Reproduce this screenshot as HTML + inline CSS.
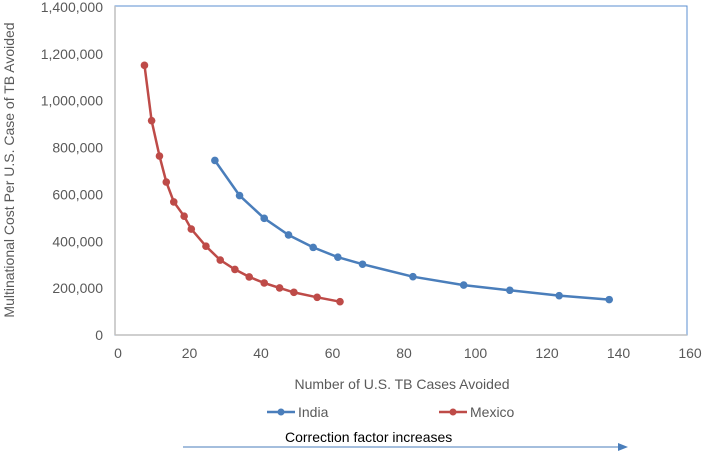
<!DOCTYPE html>
<html><head><meta charset="utf-8"><style>
html,body{margin:0;padding:0;background:#fff;}
svg{display:block;font-family:"Liberation Sans",sans-serif;}
</style></head><body>
<svg id="chart" width="709" height="453">
<rect x="115" y="6" width="572" height="329" fill="none" stroke="#5b8fd0" stroke-width="1"/>
<line x1="115" y1="335" x2="687" y2="335" stroke="#bfbfbf" stroke-width="1.5"/>
<line x1="115" y1="6" x2="115" y2="335" stroke="#bfbfbf" stroke-width="1.5"/>
<g id="xt"></g><g id="yt"></g><g id="series"></g>
<text x="402" y="389" text-anchor="middle" font-size="14" fill="#595959">Number  of U.S. TB Cases Avoided</text>
<text transform="translate(14,170) rotate(-90)" text-anchor="middle" font-size="14" fill="#595959">Multinational  Cost Per U.S. Case of TB Avoided</text>
<g>
<line x1="267" y1="412" x2="295" y2="412" stroke="#4a7ebb" stroke-width="2.5"/>
<circle cx="281" cy="412" r="3.5" fill="#4a7ebb"/>
<text x="298" y="417" font-size="14" fill="#595959">India</text></g>
<g>
<line x1="439" y1="412" x2="467" y2="412" stroke="#be4b48" stroke-width="2.5"/>
<circle cx="453" cy="412" r="3.5" fill="#be4b48"/>
<text x="470" y="417" font-size="14" fill="#595959">Mexico</text></g>
<text x="285" y="442" font-size="14" fill="#000">Correction factor increases</text>
<g>
<line x1="183" y1="447" x2="618" y2="447" stroke="#4a7ebb" stroke-width="1"/>
<polygon points="628,447 618,443 618,451" fill="#4a7ebb"/></g>
</svg>
<script>
const xTicks=[0,20,40,60,80,100,120,140,160];
const yTicks=[0,200000,400000,600000,800000,1000000,1200000,1400000];
const indiaX=[27.1,34.0,40.9,47.7,54.6,61.5,68.4,82.5,96.7,109.6,123.4,137.4];
const indiaY=[745000,595000,498000,427000,374000,332000,302000,249000,213000,191000,168000,151000];
const mexicoX=[7.4,9.4,11.6,13.5,15.6,18.5,20.5,24.6,28.6,32.7,36.7,40.9,45.2,49.2,55.7,62.1];
const mexicoY=[1151000,915000,764000,653000,568000,507000,452000,379000,320000,280000,248000,222000,201000,182000,161000,142000];
const NS="http://www.w3.org/2000/svg";
function sx(v){return 118+v*3.575;}
function sy(v){return 335-v/1400000*328;}
function mk(t,a,p){const e=document.createElementNS(NS,t);for(const k in a)e.setAttribute(k,a[k]);p.appendChild(e);return e;}
const xt=document.getElementById('xt'),yt=document.getElementById('yt'),sg=document.getElementById('series');
xTicks.forEach(v=>{const t=mk('text',{x:sx(v),y:358,'text-anchor':'middle','font-size':14,fill:'#595959'},xt);t.textContent=v;

});
yTicks.forEach(v=>{const t=mk('text',{x:103,y:sy(v)+5,'text-anchor':'end','font-size':14,fill:'#595959'},yt);t.textContent=v.toLocaleString('en-US');

});
function series(xs,ys,c,name){
 const g=mk('g',{},sg);
 
 
 const d=xs.map((x,i)=>(i?'L':'M')+sx(x).toFixed(1)+' '+sy(ys[i]).toFixed(1)).join(' ');
 const p=mk('path',{d:d,fill:'none',stroke:c,'stroke-width':2.5,'stroke-linejoin':'round'},g);
 
 
 xs.forEach((x,i)=>{const c2=mk('circle',{cx:sx(x),cy:sy(ys[i]),r:3.8,fill:c},g);
 
 });
}
series(indiaX,indiaY,'#4a7ebb','india-series');
series(mexicoX,mexicoY,'#be4b48','mexico-series');
</script>
</body></html>
